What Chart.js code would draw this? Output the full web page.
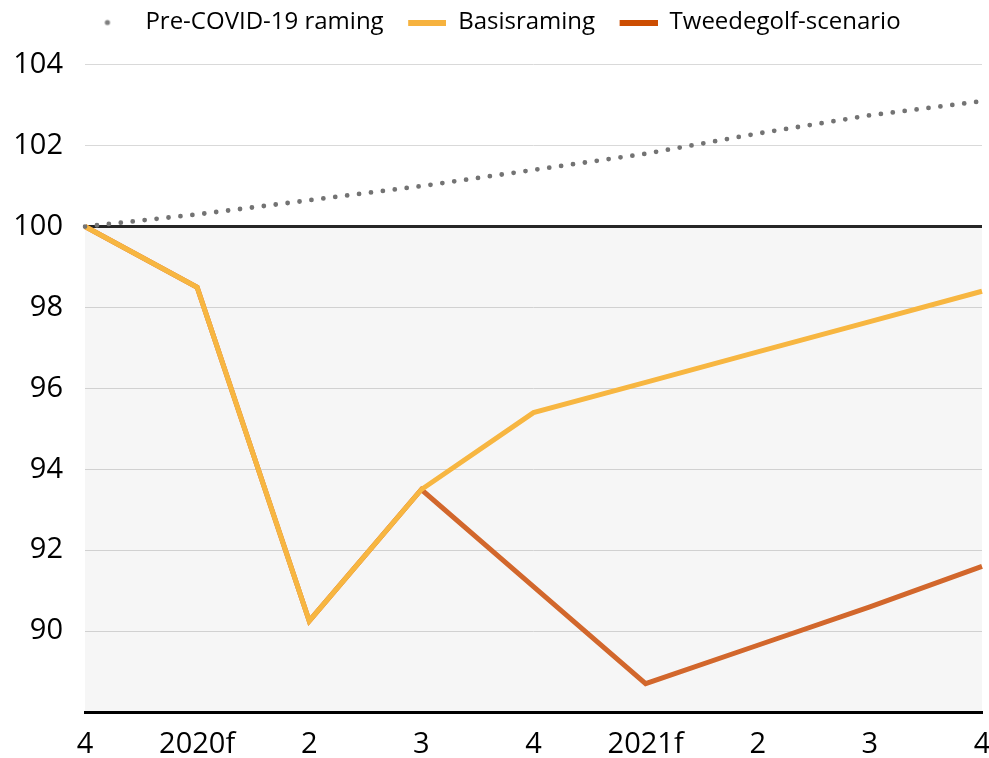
<!DOCTYPE html>
<html lang="nl">
<head>
<meta charset="utf-8">
<title>Pre-COVID-19 raming, basisraming en tweedegolf-scenario</title>
<script src="https://cdn.jsdelivr.net/npm/chart.js@4"></script>
<style>
    html, body { margin: 0; padding: 0; background: #fff; }
    #kader { width: 989px; height: 758px; }
</style>
</head>
<body>
<div id="kader"><canvas id="grafiek"></canvas></div>
<script>
/* ─── Gegevens ──────────────────────────────────────────────────── */
const KWARTALEN   = ['4', '2020f', '2', '3', '4', '2021f', '2', '3', '4'];
const PRE_COVID   = [100, 100.3, 100.65, 101.0, 101.4, 101.8, 102.3, 102.75, 103.1];
const BASIS       = [100, 98.5, 90.25, 93.5, 95.4, 96.15, 96.9, 97.65, 98.4];
const TWEEDEGOLF  = [100, 98.5, 90.25, 93.5, 91.1, 88.7, 89.65, 90.6, 91.6];
const NIVEAU_100  = [100, 100, 100, 100, 100, 100, 100, 100, 100];
const Y_TICKS     = [90, 92, 94, 96, 98, 100, 102, 104];

const LETTER = '"Open Sans", "Noto Sans", sans-serif';

/* Kleine canvasjes als legenda-symbool (breedte = pointStyleWidth) */
function maakIcoon(w, h, teken) {
    const c = document.createElement('canvas');
    c.width = w; c.height = h;
    teken(c.getContext('2d'));
    return c;
}
const iconen = [
    maakIcoon(52, 8, g => { g.fillStyle = '#7f7f7f'; g.beginPath(); g.arc(26, 4, 2.6, 0, Math.PI * 2); g.fill(); }),
    maakIcoon(52, 6, g => { g.fillStyle = '#f6b23e'; g.fillRect(14, 0, 38, 6); }),
    maakIcoon(52, 6, g => { g.fillStyle = '#cc4d02'; g.fillRect(14, 0, 38, 6); }),
];

new Chart(document.getElementById('grafiek'), {
    type: 'line',
    data: {
        labels: KWARTALEN,
        datasets: [
            {
                label: 'Pre-COVID-19 raming',
                data: PRE_COVID,
                borderColor: '#737373',
                borderWidth: 4.8,
                borderDash: [0, 12],
                borderCapStyle: 'round',
                pointRadius: 0,
                fill: false,
            },
            {
                label: 'Basisraming',
                data: BASIS,
                borderColor: '#f7b641',
                borderWidth: 5,
                pointRadius: 0,
                fill: false,
            },
            {
                label: 'Tweedegolf-scenario',
                data: TWEEDEGOLF,
                borderColor: '#d2672c',
                borderWidth: 5,
                pointRadius: 0,
                fill: false,
            },
            {
                label: 'niveau',
                data: NIVEAU_100,
                borderColor: '#262626',
                borderWidth: 3,
                pointRadius: 0,
                fill: 'start',
                backgroundColor: 'rgba(0, 0, 0, 0.035)',
            },
        ],
    },
    options: {
        responsive: true,
        maintainAspectRatio: false,
        animation: false,
        layout: { padding: { top: 0, right: 7, bottom: 0, left: 0 } },
        plugins: {
            tooltip: { enabled: false },
            legend: {
                position: 'top',
                labels: {
                    usePointStyle: true,
                    pointStyleWidth: 52,
                    padding: 10.5,
                    color: '#000',
                    font: { family: LETTER, size: 24 },
                    generateLabels: chart => chart.data.datasets.slice(0, 3).map((ds, i) => ({
                        text: ds.label,
                        pointStyle: iconen[i],
                        fillStyle: 'transparent',
                        strokeStyle: 'transparent',
                        lineWidth: 0,
                        hidden: false,
                        datasetIndex: i,
                        fontColor: '#000',
                    })),
                },
            },
        },
        scales: {
            x: {
                offset: false,
                afterFit: scale => { scale.height = 46; scale.paddingRight = 0; },
                grid: { display: false, drawTicks: false },
                border: { display: true, color: '#000', width: 3 },
                ticks: {
                    color: '#000',
                    padding: 15,
                    maxRotation: 0,
                    autoSkip: false,
                    font: { family: LETTER, size: 29 },
                },
            },
            y: {
                min: 88,
                max: 104.5,
                afterBuildTicks: scale => { scale.ticks = Y_TICKS.map(v => ({ value: v })); },
                afterFit: scale => { scale.width = 85; },
                border: { display: false },
                grid: { color: '#d9d9d9', lineWidth: 1, drawTicks: false },
                ticks: {
                    color: '#000',
                    padding: 22,
                    font: { family: LETTER, size: 29 },
                },
            },
        },
    },
});
</script>
</body>
</html>
